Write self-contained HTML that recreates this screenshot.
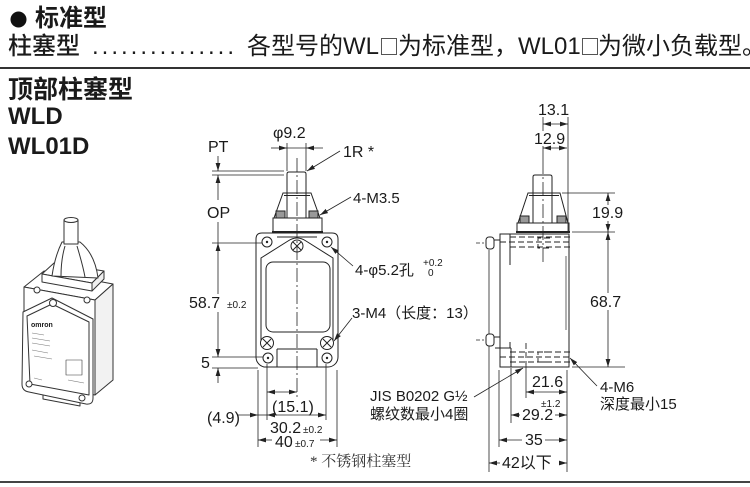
<!DOCTYPE html>
<html><head><meta charset="utf-8">
<style>
html,body{margin:0;padding:0;background:#fff;}
svg{display:block;}
text{font-family:"Liberation Sans","Noto Sans CJK SC",sans-serif;fill:#1a1a1a;}
.cj{font-family:"Noto Sans CJK SC",sans-serif;}
.sf{font-family:"Liberation Serif","Noto Serif CJK SC",serif;fill:#333;}
</style></head><body>
<svg width="750" height="487" viewBox="0 0 750 487" xmlns="http://www.w3.org/2000/svg">
<defs>
<marker id="a" viewBox="0 0 8 6" refX="8" refY="3" markerWidth="8" markerHeight="6" orient="auto-start-reverse" markerUnits="userSpaceOnUse"><path d="M0,0.6 L8,3 L0,5.4z" fill="#222"/></marker>
</defs>

<!-- header -->
<circle cx="18.5" cy="19.5" r="8" fill="#111"/>
<text x="35" y="26" font-size="24" font-weight="bold">标准型</text>
<text x="8" y="54" font-size="24" font-weight="500">柱塞型</text>
<text x="92" y="54" font-size="24" textLength="142" lengthAdjust="spacing">...............</text>
<text x="247" y="54" font-size="24">各型号的WL</text>
<text x="379" y="54" font-size="20" class="cj">□</text>
<text x="398" y="54" font-size="24">为标准型，</text>
<text x="518" y="54" font-size="24">WL01</text>
<text x="580" y="54" font-size="20" class="cj">□</text>
<text x="598" y="54" font-size="24">为微小负载型。</text>
<rect x="0" y="67" width="750" height="2" fill="#333"/>
<text x="8" y="98" font-size="25" font-weight="bold">顶部柱塞型</text>
<text x="8" y="124" font-size="24" font-weight="bold">WLD</text>
<text x="8" y="154" font-size="24" font-weight="bold">WL01D</text>
<rect x="0" y="481" width="750" height="2" fill="#444"/>

<!-- product illustration -->
<g stroke="#333" stroke-width="1" fill="#fff" stroke-linejoin="round">
  <polygon points="24,287 95,300 113,284 44,271"/>
  <polygon points="95,300 113,284 113,380 95,395" fill="#f2f2f2"/>
  <polygon points="24,287 95,300 95,395 24,383"/>
  <path d="M43,392 L80,399 L80,406 L43,399 Z"/>
  <path d="M23,312 L52,298 L93,319 V398 Q93,405 86,404 L29,392 Q22,391 22,384 Z"/>
  <path d="M27,316 L52,304 L89,322 V395 L30,384 Z" fill="none"/>
  <polygon points="42,274 92,283 104,271 54,263"/>
  <polygon points="42,274 92,283 92,291 42,282"/>
  <polygon points="92,283 104,271 104,279 92,291" fill="#eee"/>
  <path d="M62,242 C57,252 54,262 52,276 L98,278 C96,262 90,250 80,242 Z"/>
  <path d="M65,246 C62,256 61,266 61,276 M77,246 C80,256 83,266 85,277" fill="none"/>
  <rect x="64" y="220" width="14" height="24"/>
  <ellipse cx="71" cy="220" rx="7" ry="2.5"/>
  <circle cx="37" cy="290" r="3"/>
  <circle cx="87" cy="300" r="3"/>
  <circle cx="53" cy="303" r="3.5"/>
  <circle cx="29" cy="384" r="3"/>
  <circle cx="82" cy="398" r="3"/>
  <rect x="66" y="360" width="16" height="15" stroke-width="0.6"/>
</g>
<text x="31" y="327" font-size="7" font-weight="bold">omron</text>
<g stroke="#777" stroke-width="0.6">
  <line x1="32" y1="333" x2="44" y2="335"/><line x1="32" y1="338" x2="50" y2="341"/>
  <line x1="32" y1="343" x2="50" y2="346"/><line x1="32" y1="350" x2="48" y2="353"/>
  <line x1="34" y1="356" x2="52" y2="359"/><line x1="34" y1="378" x2="42" y2="380"/>
  <line x1="68" y1="380" x2="84" y2="383"/>
</g>

<!-- FRONT VIEW -->
<g stroke="#222" fill="none" stroke-width="1">
  <path d="M287 193 V174 Q287 172 289 172 H304 Q306 172 306 174 V193"/>
  <path d="M283 193 H311 L320 218 H274 Z"/>
  <line x1="284" y1="195.5" x2="310" y2="195.5"/>
  <line x1="287" y1="193" x2="287" y2="218"/>
  <line x1="306" y1="193" x2="306" y2="218"/>
  <rect x="276" y="211" width="9" height="7" fill="#999"/>
  <rect x="309" y="211" width="9" height="7" fill="#999"/>
  <rect x="273" y="218" width="49" height="14"/>
  <line x1="272" y1="232" x2="323" y2="232" stroke-width="2"/>
  <path d="M262 233 H332 Q338 233 338 239 V357 A10 10 0 0 1 328 367 H267 A10 10 0 0 1 256 357 V239 Q256 233 262 233 Z"/>
  <path d="M261 340 V258 L288 241 Q297 235 306 241 L333 258 V340"/>
  <line x1="277" y1="237" x2="317" y2="237"/>
  <rect x="266" y="262" width="64" height="70" rx="7"/>
  <line x1="277" y1="349" x2="317" y2="349"/>
  <line x1="277" y1="349" x2="277" y2="367"/>
  <line x1="317" y1="349" x2="317" y2="367"/>
  <circle cx="267" cy="242" r="5" fill="#fff"/>
  <circle cx="327" cy="242" r="5" fill="#fff"/>
  <circle cx="297" cy="246" r="6" fill="#fff"/>
  <path d="M293 242 L301 250 M301 242 L293 250"/>
  <circle cx="267" cy="343" r="6.5" fill="#fff"/>
  <path d="M263 339 L271 347 M271 339 L263 347"/>
  <circle cx="327" cy="343" r="6.5" fill="#fff"/>
  <path d="M323 339 L331 347 M331 339 L323 347"/>
  <circle cx="268" cy="358" r="5" fill="#fff"/>
  <circle cx="327" cy="358" r="5" fill="#fff"/>
</g>
<g fill="#222">
  <circle cx="267" cy="242" r="1.2"/><circle cx="327" cy="242" r="1.2"/>
  <circle cx="268" cy="358" r="1.2"/><circle cx="327" cy="358" r="1.2"/>
</g>
<g stroke="#222" fill="none" stroke-width="0.8">
  <line x1="297" y1="158" x2="297" y2="398" stroke-dasharray="14 3 2 3"/>
  <line x1="287" y1="143" x2="287" y2="171"/>
  <line x1="306" y1="143" x2="306" y2="171"/>
  <line x1="271" y1="148" x2="287" y2="148" marker-end="url(#a)"/>
  <line x1="287" y1="148" x2="306" y2="148"/>
  <line x1="323" y1="148" x2="306" y2="148" marker-end="url(#a)"/>
  <line x1="218" y1="156" x2="218" y2="171" marker-end="url(#a)"/>
  <line x1="212" y1="171" x2="284" y2="171"/>
  <line x1="212" y1="175" x2="284" y2="175"/>
  <line x1="218" y1="200" x2="218" y2="175" marker-end="url(#a)"/>
  <line x1="218" y1="222" x2="218" y2="243"/>
  <line x1="212" y1="243" x2="262" y2="243"/>
  <line x1="218" y1="294" x2="218" y2="243" marker-end="url(#a)"/>
  <line x1="218" y1="312" x2="218" y2="357" marker-end="url(#a)"/>
  <line x1="212" y1="357" x2="263" y2="357"/>
  <line x1="212" y1="368" x2="258" y2="368"/>
  <line x1="218" y1="383" x2="218" y2="368" marker-end="url(#a)"/>
  <line x1="258" y1="370" x2="258" y2="447"/>
  <line x1="267" y1="364" x2="267" y2="420"/>
  <line x1="326" y1="364" x2="326" y2="420"/>
  <line x1="337" y1="370" x2="337" y2="447"/>
  <line x1="267" y1="392" x2="297" y2="392" marker-start="url(#a)" marker-end="url(#a)"/>
  <line x1="238" y1="415" x2="258" y2="415" marker-end="url(#a)"/>
  <line x1="258" y1="415" x2="267" y2="415"/>
  <line x1="267" y1="415" x2="326" y2="415" marker-start="url(#a)" marker-end="url(#a)"/>
  <line x1="272" y1="440" x2="258" y2="440" marker-end="url(#a)"/>
  <line x1="320" y1="440" x2="337" y2="440" marker-end="url(#a)"/>
  <line x1="340" y1="151" x2="307" y2="171" marker-end="url(#a)"/>
  <line x1="351" y1="197" x2="320" y2="215" marker-end="url(#a)"/>
  <line x1="353" y1="266" x2="331" y2="247" marker-end="url(#a)"/>
  <line x1="352" y1="318" x2="334" y2="341" marker-end="url(#a)"/>
</g>
<g font-size="16">
  <text x="273" y="138">φ9.2</text>
  <text x="208" y="152">PT</text>
  <text x="343" y="157">1R *</text>
  <text x="353" y="203" font-size="15">4-M3.5</text>
  <text x="207" y="218">OP</text>
  <text x="355" y="275" font-size="15">4-φ5.2孔</text>
  <text x="423" y="266" font-size="10">+0.2</text>
  <text x="428" y="276" font-size="10">0</text>
  <text x="189" y="308">58.7</text>
  <text x="227" y="308" font-size="10">±0.2</text>
  <text x="352" y="318" font-size="15">3-M4（长度：13）</text>
  <text x="201" y="368">5</text>
  <text x="272" y="412">(15.1)</text>
  <text x="207" y="423">(4.9)</text>
  <text x="270" y="433">30.2</text>
  <text x="303" y="433" font-size="10">±0.2</text>
  <text x="275" y="447">40</text>
  <text x="295" y="447" font-size="10">±0.7</text>
</g>
<text x="310" y="466" font-size="15" class="sf">* 不锈钢柱塞型</text>

<!-- SIDE VIEW -->
<g stroke="#222" fill="none" stroke-width="1">
  <path d="M533 193 V177 Q533 175 535 175 H550 Q552 175 552 177 V193"/>
  <path d="M528 193 H560 L568 223 H518 Z"/>
  <line x1="529" y1="195.5" x2="559" y2="195.5"/>
  <line x1="533" y1="193" x2="533" y2="223"/>
  <line x1="552" y1="193" x2="552" y2="223"/>
  <rect x="520" y="216" width="9" height="7" fill="#999"/>
  <rect x="557" y="216" width="9" height="7" fill="#999"/>
  <rect x="517" y="223" width="52" height="9"/>
  <line x1="516" y1="232" x2="570" y2="232" stroke-width="2"/>
  <rect x="500" y="234" width="69" height="133"/>
  <line x1="510" y1="234" x2="510" y2="265"/>
  <line x1="510" y1="342" x2="510" y2="348"/>
  <line x1="495" y1="348" x2="511" y2="348"/>
  <line x1="511" y1="348" x2="511" y2="367"/>
  <line x1="566" y1="256" x2="566" y2="330" stroke-width="0.7"/>
  <line x1="489" y1="250" x2="489" y2="472" stroke-width="0.8"/>
  <line x1="493" y1="240" x2="500" y2="240"/>
  <line x1="493" y1="337" x2="500" y2="337"/>
  <rect x="486" y="237" width="8" height="12" rx="3" fill="#fff"/>
  <rect x="486" y="334" width="8" height="12" rx="3" fill="#fff"/>
  <g stroke-dasharray="6 3" stroke-width="0.9">
    <line x1="510" y1="237" x2="572" y2="237"/>
    <line x1="500" y1="242" x2="572" y2="242"/>
    <line x1="510" y1="247" x2="572" y2="247"/>
    <path d="M550 238 H538 V248 H550"/>
    <line x1="510" y1="352" x2="572" y2="352"/>
    <line x1="500" y1="357" x2="572" y2="357"/>
    <line x1="510" y1="362" x2="572" y2="362"/>
    <path d="M550 352 H538 V362 H550"/>
    <line x1="526" y1="343" x2="526" y2="365"/>
  </g>
</g>
<g stroke="#222" fill="none" stroke-width="0.8">
  <line x1="476" y1="243" x2="484" y2="243" stroke-dasharray="4 2"/>
  <line x1="476" y1="340" x2="484" y2="340" stroke-dasharray="4 2"/>
  <line x1="543" y1="117" x2="543" y2="131"/>
  <line x1="543" y1="146" x2="543" y2="160"/>
  <line x1="543" y1="160" x2="543" y2="262" stroke-dasharray="14 3 2 3"/>
  <line x1="568" y1="117" x2="568" y2="232"/>
  <line x1="543" y1="124" x2="568" y2="124" marker-start="url(#a)" marker-end="url(#a)"/>
  <line x1="543" y1="148" x2="567" y2="148" marker-start="url(#a)" marker-end="url(#a)"/>
  <line x1="562" y1="193" x2="615" y2="193"/>
  <line x1="572" y1="232" x2="615" y2="232"/>
  <line x1="572" y1="367" x2="625" y2="367"/>
  <line x1="608" y1="205" x2="608" y2="193" marker-end="url(#a)"/>
  <line x1="608" y1="221" x2="608" y2="232" marker-end="url(#a)"/>
  <line x1="608" y1="293" x2="608" y2="232" marker-end="url(#a)"/>
  <line x1="608" y1="310" x2="608" y2="367" marker-end="url(#a)"/>
  <line x1="499" y1="370" x2="499" y2="447"/>
  <line x1="511" y1="368" x2="511" y2="423"/>
  <line x1="526" y1="365" x2="526" y2="398"/>
  <line x1="567" y1="370" x2="567" y2="472"/>
  <line x1="526" y1="392" x2="567" y2="392" marker-start="url(#a)" marker-end="url(#a)"/>
  <line x1="520" y1="415" x2="511" y2="415" marker-end="url(#a)"/>
  <line x1="555" y1="415" x2="567" y2="415" marker-end="url(#a)"/>
  <line x1="522" y1="440" x2="499" y2="440" marker-end="url(#a)"/>
  <line x1="545" y1="440" x2="567" y2="440" marker-end="url(#a)"/>
  <line x1="500" y1="463" x2="489" y2="463" marker-end="url(#a)"/>
  <line x1="559" y1="463" x2="567" y2="463" marker-end="url(#a)"/>
  <line x1="474" y1="397" x2="523" y2="368" marker-end="url(#a)"/>
  <line x1="597" y1="386" x2="570" y2="358" marker-end="url(#a)"/>
</g>
<g font-size="16">
  <text x="538" y="115">13.1</text>
  <text x="534" y="144">12.9</text>
  <text x="592" y="218">19.9</text>
  <text x="590" y="307">68.7</text>
  <text x="370" y="401" font-size="15">JIS B0202 G½</text>
  <text x="370" y="419" font-size="15">螺纹数最小4圈</text>
  <text x="532" y="387">21.6</text>
  <text x="541" y="407" font-size="10">±1.2</text>
  <text x="522" y="420">29.2</text>
  <text x="600" y="392" font-size="15">4-M6</text>
  <text x="600" y="409" font-size="15">深度最小15</text>
  <text x="525" y="445">35</text>
  <text x="502" y="468">42以下</text>
</g>
</svg>
</body></html>
